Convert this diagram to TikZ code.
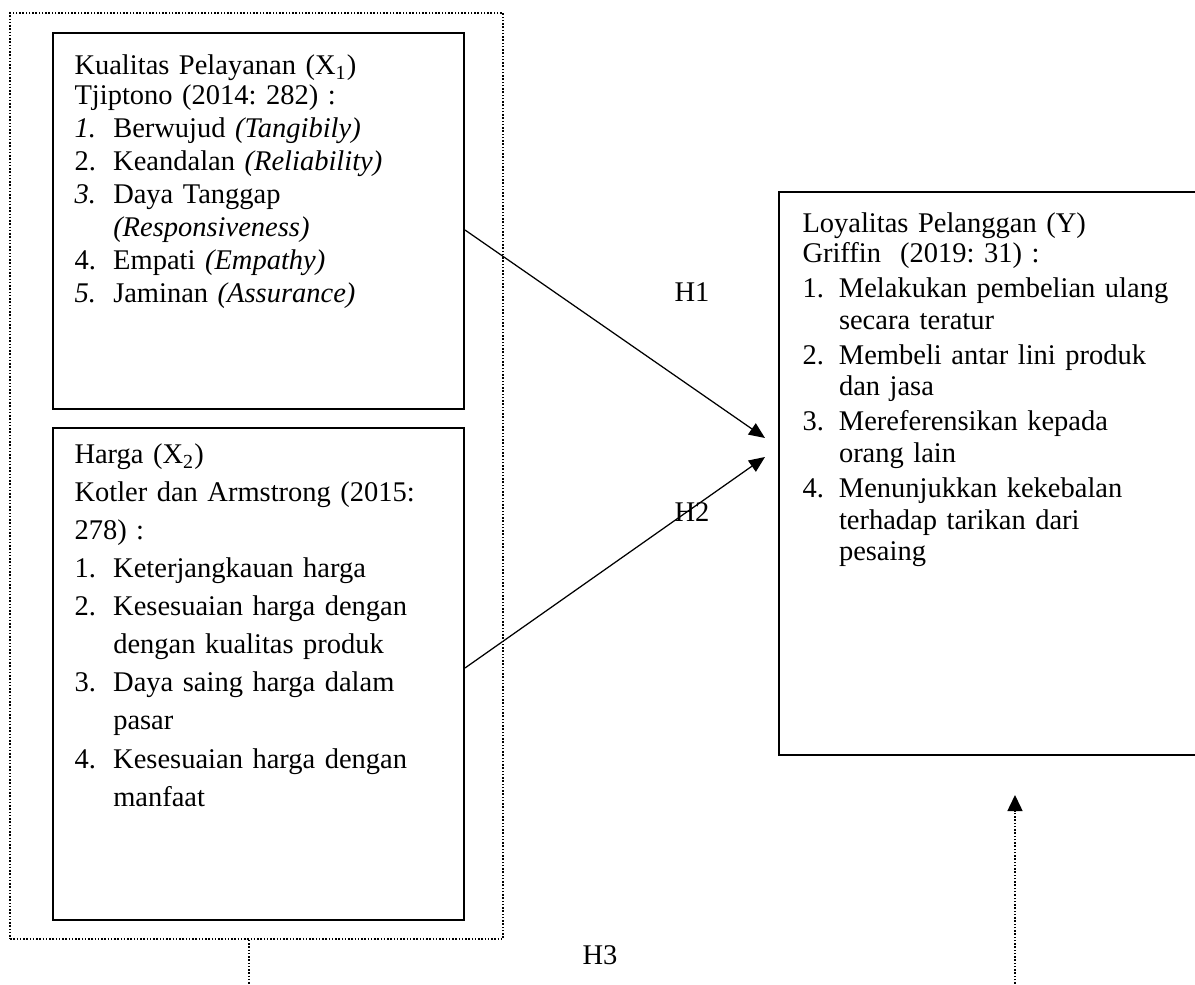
\documentclass[tikz,border=0pt]{standalone}
\usepackage{fontspec}
\setmainfont{Liberation Serif}
\usetikzlibrary{arrows.meta,fit}
\newcommand{\nb}[2][15.5pt]{\makebox[#1][l]{#2}}
\frenchspacing

\begin{document}
\begin{tikzpicture}[
  x=0.4pt, y=-0.4pt,
  font=\fontsize{11.4}{13.2}\selectfont,
  varbox/.style ={draw,line width=0.8pt,inner sep=0pt},
  grpbox/.style ={draw,line width=0.6pt,dash pattern=on 0.6pt off 0.7pt,inner sep=0pt},
  txt/.style    ={anchor=base west,align=left,text width=150pt,inner sep=0pt},
  hyp/.style    ={inner sep=0pt},
  link/.style   ={line width=0.5pt,-{Triangle[length=6.4pt,width=5.4pt]}},
  dotlink/.style={line width=0.6pt,dash pattern=on 0.6pt off 0.7pt}]

\path[use as bounding box,fill=white] (0,0) rectangle (1195,985);
\clip (0,0) rectangle (1195,985);

% ---------- independent variables ----------
\node[varbox,fit={(53,33)(464,409)}]  (x1) {};
\node[varbox,fit={(53,428)(464,920)}] (x2) {};
\node[grpbox,fit={(10,13)(503,939)}]  (xs) {};

\node[txt] (x1txt) at (74,75)
  {Kualitas Pelayanan (X\textsubscript{1})\\[-1.2pt]
   Tjiptono (2014: 282) :\\
   \nb{\textit{1.}}Berwujud \textit{(Tangibily)}\\
   \nb{2.}Keandalan \textit{(Reliability)}\\
   \nb{\textit{3.}}Daya Tanggap\\
   \nb{}\textit{(Responsiveness)}\\
   \nb{4.}Empati \textit{(Empathy)}\\
   \nb{\textit{5.}}Jaminan \textit{(Assurance)}};

\node[txt,font=\fontsize{11.4}{15.2}\selectfont] (x2txt) at (74,464)
  {Harga (X\textsubscript{2})\\
   Kotler dan Armstrong (2015:\\
   278) :\\
   \nb{1.}Keterjangkauan harga\\
   \nb{2.}Kesesuaian harga dengan\\
   \nb{}dengan kualitas produk\\
   \nb{3.}Daya saing harga dalam\\
   \nb{}pasar\\
   \nb{4.}Kesesuaian harga dengan\\
   \nb{}manfaat};

% ---------- dependent variable ----------
\node[varbox,fit={(779,192)(1210,755)}] (loy) {};
\node[txt,font=\fontsize{11.4}{12.6}\selectfont] (loytxt) at (802,233)
  {Loyalitas Pelanggan (Y)\\[-0.6pt]
   Griffin\ \ (2019: 31) :\\[1.4pt]
   \nb[14.6pt]{1.}Melakukan pembelian ulang\\
   \nb[14.6pt]{}secara teratur\\[1.4pt]
   \nb[14.6pt]{2.}Membeli antar lini produk\\
   \nb[14.6pt]{}dan jasa\\[1.4pt]
   \nb[14.6pt]{3.}Mereferensikan kepada\\
   \nb[14.6pt]{}orang lain\\[1.4pt]
   \nb[14.6pt]{4.}Menunjukkan kekebalan\\
   \nb[14.6pt]{}terhadap tarikan dari\\
   \nb[14.6pt]{}pesaing};

% ---------- hypotheses ----------
\coordinate (h1tip) at (765,438);
\coordinate (h2tip) at (765,457);
\draw[link] (x1.east |- 0,230) -- (h1tip);
\draw[link] (x2.east |- 0,668) -- (h2tip);

\node[hyp] (h1) at (692,292) {H1};
\node[hyp] (h2) at (692,512) {H2};
\node[hyp] (h3) at (600,955) {H3};

\coordinate (h3a) at (249,990);
\coordinate (h3b) at (1015,990);
\coordinate (h3tip) at (1015,795);
\draw[dotlink] (xs.south -| h3a) -- (h3a);
\draw[dotlink,-{Triangle[length=6.4pt,width=6pt]}] (h3b) -- (h3tip);

\end{tikzpicture}
\end{document}
